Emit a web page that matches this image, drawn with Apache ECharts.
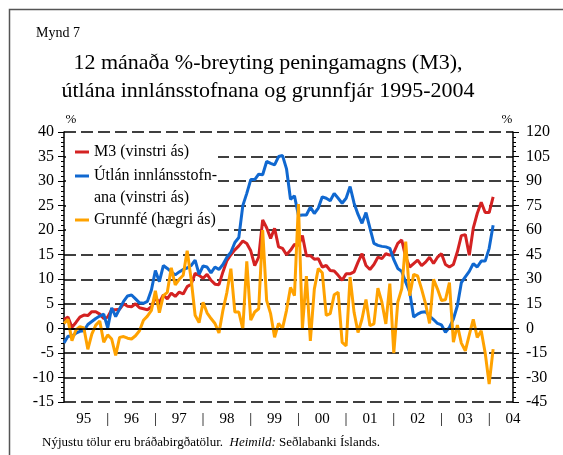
<!DOCTYPE html>
<html>
<head>
<meta charset="utf-8">
<script src="https://cdn.jsdelivr.net/npm/echarts@6.0.0/dist/echarts.min.js"></script>
<style>
  html, body { margin: 0; padding: 0; background: #fff; }
  #chart { width: 563px; height: 455px; }
</style>
</head>
<body>
<div id="chart"></div>
<script>
// 12 mánaða %-breyting, mánaðarleg gögn feb. 1995 - feb. 2004
const m3 = [
  1.8, 2.3, 0.2, 1.2, 2.3, 2.7, 2.6, 3.4, 3.4, 2.9,
  2.0, 2.3, 3.8, 3.8, 3.9, 5.0, 4.5, 4.4, 5.0, 4.2,
  4.0, 3.8, 4.4, 6.2, 5.3, 6.8, 6.0, 7.2, 6.5, 7.4,
  7.0, 8.5, 9.0, 11.2, 10.8, 10.2, 11.0, 9.8, 9.0, 8.9,
  11.5, 13.8, 15.0, 16.0, 16.8, 17.8, 17.3, 15.8, 12.8, 14.5,
  22.1, 20.5, 18.3, 20.4, 16.6, 16.3, 15.0, 15.9, 17.1, 16.9,
  18.9, 14.8, 14.8, 14.1, 14.2, 12.5, 12.8, 11.8, 11.7, 10.8,
  9.8, 11.1, 11.1, 11.5, 13.5, 15.2, 12.8, 12.0, 13.0, 14.5,
  14.2, 15.2, 14.9, 15.5, 17.3, 18.0, 14.5, 12.5, 13.2, 13.9,
  12.8, 13.5, 14.5, 13.2, 14.5, 15.2, 13.0, 12.5, 13.0, 15.6,
  18.9, 19.1, 14.9, 20.4, 23.4, 25.7, 23.6, 23.6, 26.8
];
const utlan = [
  -3.0, -1.6, -1.6, -1.0, -0.6, -0.5, 0.8, 1.4, 2.0, 2.5,
  2.9, 0.1, 4.2, 2.4, 4.0, 5.5, 6.6, 6.8, 6.0, 5.2,
  5.1, 5.5, 7.8, 11.8, 9.5, 12.8, 12.2, 11.5, 10.9, 11.5,
  12.0, 12.3, 12.8, 13.9, 11.0, 12.7, 12.5, 11.3, 12.5, 12.0,
  13.0, 14.5, 15.5, 17.5, 18.5, 25.0, 27.5, 30.3, 30.3, 31.4,
  31.3, 34.0, 33.6, 33.3, 35.0, 35.2, 32.5, 26.3, 27.0, 23.0,
  23.1, 23.1, 24.7, 23.4, 24.5, 26.8, 26.5, 26.0, 27.5, 26.5,
  25.5, 26.5, 28.9, 25.5, 23.2, 21.4, 23.6, 20.4, 17.3, 16.9,
  16.7, 16.6, 16.3, 14.0, 12.2, 11.6, 9.4, 7.4, 2.3, 2.9,
  3.3, 3.4, 2.5, 1.8, 1.0, 0.7, -0.8, 0.2, 1.9, 4.6,
  9.3, 10.5, 11.6, 13.2, 12.5, 13.7, 13.7, 16.3, 21.0
];
const grunnfe = [
  3.0, 5.5, -7.5, -1.0, 1.0, 0.2, -12.8, -3.5, 2.0, 4.5,
  -8.5, -4.0, -6.5, -16.5, -5.5, -5.0, -6.0, -6.5, -4.5, -1.5,
  5.0, 7.5, 11.0, 23.0, 9.6, 20.0, 22.0, 37.0, 26.5, 30.0,
  32.5, 47.5, 30.0, 8.0, 3.5, 16.0, 9.5, 6.0, 3.0, -2.8,
  11.0, 22.0, 36.5, 10.0, 10.0, -0.4, 41.0, 5.0, 10.0, 12.0,
  60.0, 17.0, 9.0, -5.5, 3.0, 0.0, 11.0, 25.0, 20.0, 76.0,
  0.0, 32.0, -7.6, 24.0, 36.5, 34.0, 8.0, 9.0, 20.5, 22.0,
  -8.6, -10.7, 31.4, 9.8, -2.5, 5.7, 17.6, 1.6, 2.7, 24.6,
  16.0, 2.7, 27.3, -15.2, 16.0, 24.2, 53.0, 20.0, 33.0, 32.0,
  24.0, 15.0, 3.0, 30.0, 24.0, 17.0, 17.5, 28.0, -8.5, 2.0,
  -9.0, -13.7, -4.0, 5.5, -5.5, -1.5, -15.0, -34.0, -12.7
];
const yearLabels = ["95", "96", "97", "98", "99", "00", "01", "02", "03", "04"];
const leftTicks = { min: -15, max: 40, step: 5 };
const rightTicks = { min: -45, max: 120, step: 15 };

// mánuðir frá feb. 1995 til júl. 2004 (ásinn nær aðeins lengra en gögnin)
const months = [];
for (let i = 0; i < 114; i++) {
  const t = 1 + i;
  months.push((1995 + Math.floor(t / 12)) + "-" + String(t % 12 + 1).padStart(2, "0"));
}
// ártal um mitt ár (júlí), strik við áramót (janúar)
const xLabels = {};
yearLabels.forEach((y, k) => { xLabels[5 + 12 * k] = y; });
for (let k = 0; k < 9; k++) xLabels[11 + 12 * k] = "|";

const font = "Liberation Serif";
const names = ["M3 (vinstri ás)", "Útlán innlánsstofn-", "Grunnfé (hægri ás)"];

const chart = echarts.init(document.getElementById("chart"));
chart.setOption({
  animation: false,
  backgroundColor: "#fff",
  textStyle: { fontFamily: font, color: "#000" },
  title: {
    text: "12 mánaða %-breyting peningamagns (M3),\nútlána innlánsstofnana og grunnfjár 1995-2004",
    left: 268,
    top: 49,
    textAlign: "center",
    padding: 0,
    textStyle: { fontFamily: font, fontSize: 22, fontWeight: "normal", color: "#000", lineHeight: 28 }
  },
  grid: { left: 64, right: 50, top: 132, bottom: 53, containLabel: false },
  legend: [
    {
      data: [names[0], names[1]],
      orient: "vertical",
      left: 75, top: 143, padding: 0,
      icon: "rect", itemWidth: 14, itemHeight: 3, itemGap: 6,
      textStyle: { fontFamily: font, fontSize: 16, color: "#000", lineHeight: 18 }
    },
    {
      data: [names[2]],
      orient: "vertical",
      left: 75, top: 211, padding: 0,
      icon: "rect", itemWidth: 14, itemHeight: 3,
      textStyle: { fontFamily: font, fontSize: 16, color: "#000", lineHeight: 18 }
    }
  ],
  xAxis: {
    type: "category",
    data: months,
    boundaryGap: false,
    axisLine: { lineStyle: { color: "#000", width: 2 } },
    axisTick: { show: false },
    splitLine: { show: false },
    axisLabel: {
      interval: (i) => xLabels[i] !== undefined,
      formatter: (v, i) => xLabels[i],
      fontFamily: font, fontSize: 15, color: "#000", margin: 10
    }
  },
  yAxis: [
    {
      type: "value", position: "left",
      min: leftTicks.min, max: leftTicks.max, interval: leftTicks.step,
      axisLine: { show: true, lineStyle: { color: "#000", width: 1.5 } },
      axisTick: { show: true, length: 6, lineStyle: { color: "#000" } },
      minorTick: { show: true, splitNumber: 5, length: 3, lineStyle: { color: "#000" } },
      splitLine: { show: true, lineStyle: { color: "#000", width: 1.5, type: [12, 5] } },
      axisLabel: { fontFamily: font, fontSize: 16, color: "#000", margin: 10 }
    },
    {
      type: "value", position: "right",
      min: rightTicks.min, max: rightTicks.max, interval: rightTicks.step,
      axisLine: { show: true, lineStyle: { color: "#000", width: 1.5 } },
      axisTick: { show: true, length: 6, lineStyle: { color: "#000" } },
      minorTick: { show: true, splitNumber: 5, length: 3, lineStyle: { color: "#000" } },
      splitLine: { show: false },
      axisLabel: { fontFamily: font, fontSize: 16, color: "#000", margin: 13 }
    }
  ],
  graphic: [
    // rammi
    { type: "rect", shape: { x: 9.5, y: 9.5, width: 700, height: 700 },
      style: { fill: null, stroke: "#555", lineWidth: 1.5 }, silent: true },
    // hvítur bakgrunnur undir skýringum
    { type: "rect", shape: { x: 66, y: 134, width: 152, height: 104 },
      style: { fill: "#fff" }, z: 1, silent: true },
    { type: "text", left: 36, top: 26,
      style: { text: "Mynd 7", font: "14px " + font, fill: "#000" } },
    { type: "text", x: 94, y: 198, z: 5,
      style: { text: "ana (vinstri ás)", font: "16px " + font, fill: "#000", verticalAlign: "middle" } },
    { type: "text", x: 71, y: 120,
      style: { text: "%", font: "13px " + font, fill: "#000", align: "center", verticalAlign: "middle" } },
    { type: "text", x: 507, y: 120,
      style: { text: "%", font: "13px " + font, fill: "#000", align: "center", verticalAlign: "middle" } },
    { type: "text", x: 42, y: 443,
      style: {
        text: "{a|Nýjustu tölur eru bráðabirgðatölur.  }{b|Heimild:}{a| Seðlabanki Íslands.}",
        verticalAlign: "middle",
        rich: {
          a: { fontFamily: font, fontSize: 13, fill: "#000" },
          b: { fontFamily: font, fontSize: 13, fontStyle: "italic", fill: "#000" }
        }
      } }
  ],
  series: [
    {
      name: names[0], type: "line", yAxisIndex: 0, data: m3,
      showSymbol: false, symbol: "none", color: "#d42222",
      lineStyle: { width: 3, color: "#d42222" },
      markLine: {
        silent: true, symbol: "none", label: { show: false },
        lineStyle: { color: "#000", width: 1.5, type: "solid" },
        data: [{ yAxis: 0 }]
      }
    },
    {
      name: names[1], type: "line", yAxisIndex: 0, data: utlan,
      showSymbol: false, symbol: "none", color: "#1068d0",
      lineStyle: { width: 3, color: "#1068d0" }
    },
    {
      name: names[2], type: "line", yAxisIndex: 1, data: grunnfe,
      showSymbol: false, symbol: "none", color: "#ffa200",
      lineStyle: { width: 3, color: "#ffa200" }
    }
  ]
});
</script>
</body>
</html>
